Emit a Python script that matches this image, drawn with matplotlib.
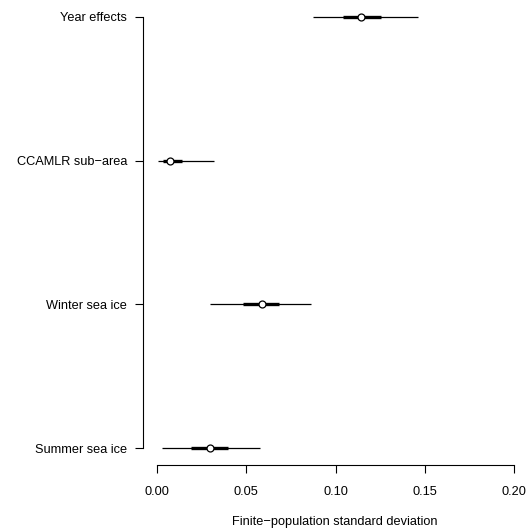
import matplotlib
matplotlib.use("Agg")
import matplotlib.pyplot as plt

labels = ["Summer sea ice", "Winter sea ice", "CCAMLR sub\u2212area", "Year effects"]
positions = [1, 2, 3, 4]
median = [0.0297, 0.0587, 0.0073, 0.1143]
lo95 = [0.0030, 0.0297, 0.0007, 0.0873]
hi95 = [0.0577, 0.0861, 0.0319, 0.1462]
lo50 = [0.0190, 0.0482, 0.0032, 0.1042]
hi50 = [0.0396, 0.0683, 0.0139, 0.1255]
xticks = [0.00, 0.05, 0.10, 0.15, 0.20]
xticklabels = ["0.00", "0.05", "0.10", "0.15", "0.20"]

plt.rcParams['font.family'] = ['Liberation Sans', 'DejaVu Sans']
W, H = 527, 531
fig = plt.figure(figsize=(W/100, H/100), dpi=100)
ax = fig.add_axes([143/W, (H-465)/H, (W-143)/W, 465/H])

ax.hlines(positions, lo95, hi95, color="black", lw=0.9)
ax.hlines(positions, lo50, hi50, color="black", lw=2.4)
ax.plot(median, positions, "o", ms=5.0, mfc="white", mec="black", mew=0.9, ls="none")

ax.set_xlim(-14/1785, 0.2 + 13/1785)
ax.set_ylim(1 - 17/143.67, 4 + 17/143.67)

for s in ["top", "right"]:
    ax.spines[s].set_visible(False)
ax.spines["left"].set_bounds(1, 4)
ax.spines["bottom"].set_bounds(0, 0.2)
ax.spines["left"].set_linewidth(0.8)
ax.spines["bottom"].set_linewidth(0.8)

ax.set_yticks(positions)
ax.set_yticklabels(labels, fontsize=9.2)
ax.set_xticks(xticks)
ax.set_xticklabels(xticklabels, fontsize=9.2)
ax.tick_params(axis="y", length=5.8, width=0.8, pad=5.5)
ax.tick_params(axis="x", length=5.8, width=0.8, pad=9.5)
ax.set_xlabel("Finite\u2212population standard deviation", fontsize=9.2, labelpad=13)

fig.savefig("out.png", dpi=100)
